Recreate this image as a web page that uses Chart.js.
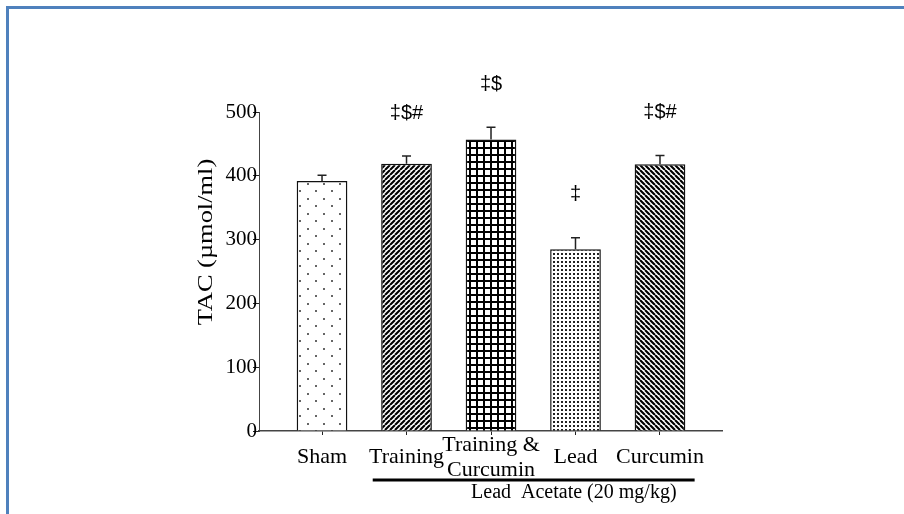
<!DOCTYPE html>
<html>
<head>
<meta charset="utf-8">
<script src="https://cdn.jsdelivr.net/npm/chart.js@4.4.0/dist/chart.umd.min.js"></script>
<style>
    html, body { margin: 0; padding: 0; background: #fff; }
    body { width: 904px; height: 514px; overflow: hidden; position: relative; }
    #frame { position: absolute; left: 6px; top: 6px; width: 1000px; height: 600px;
             border-left: 3px solid #4f81bd; border-top: 3px solid #4f81bd; }
    #wrap { position: absolute; left: 0; top: 0; width: 904px; height: 514px; }
</style>
</head>
<body>
<div id="frame"></div>
<div id="wrap"><canvas id="tacChart" width="904" height="514"></canvas></div>
<script>
// ADATOK
const groups = ['Sham', 'Training', ['Training &', 'Curcumin'], 'Lead', 'Curcumin'];
const tacMeans = [392, 419, 457, 285, 418];
const tacErrors = [9, 12, 19, 18, 14];
const significance = ['', '‡$#', '‡$', '‡', '‡$#'];
const yTicks = [0, 100, 200, 300, 400, 500];
const yTitle = 'TAC (µmol/ml)';
const leadGroupLabel = 'Lead  Acetate (20 mg/kg)';

const serif = "'Liberation Serif', 'Times New Roman', serif";
const sans = "'Liberation Sans', Arial, sans-serif";

const canvas = document.getElementById('tacChart');
const ctx = canvas.getContext('2d');

// MINTÁK (hatching)
function makePattern(w, h, draw) {
    const c = document.createElement('canvas');
    c.width = w; c.height = h;
    const p = c.getContext('2d');
    p.fillStyle = '#fff';
    p.fillRect(0, 0, w, h);
    draw(p, w, h);
    return ctx.createPattern(c, 'repeat');
}

function stripes(p, w, h, dir) {
    p.strokeStyle = '#000';
    p.lineWidth = 2.1;
    p.beginPath();
    for (let k = -1; k <= 1; k++) {
        if (dir > 0) {
            p.moveTo(k * w, h); p.lineTo(k * w + w, 0);
        } else {
            p.moveTo(k * w, 0); p.lineTo(k * w + w, h);
        }
    }
    p.stroke();
}

const patterns = [
    makePattern(16, 15, (p) => {
        p.fillStyle = '#666';
        p.fillRect(3, 3, 2, 2);
        p.fillRect(11, 10, 2, 2);
    }),
    makePattern(5, 5, (p, w, h) => stripes(p, w, h, 1)),
    makePattern(7, 7, (p) => {
        p.fillStyle = '#000';
        p.fillRect(0, 0, 7, 2);
        p.fillRect(0, 0, 2, 7);
    }),
    makePattern(4, 4, (p) => {
        p.fillStyle = '#222';
        p.fillRect(1, 1, 2, 2);
    }),
    makePattern(5, 5, (p, w, h) => stripes(p, w, h, -1))
];

// HIBASÁVOK + SZIGNIFIKANCIA JELEK
const errorBarsPlugin = {
    id: 'errorBars',
    afterDatasetsDraw(chart) {
        const c = chart.ctx;
        const yScale = chart.scales.y;
        const meta = chart.getDatasetMeta(0);
        c.save();
        c.strokeStyle = '#222';
        c.lineWidth = 1.5;
        c.fillStyle = '#000';
        c.font = `20px ${sans}`;
        c.textAlign = 'center';
        c.textBaseline = 'middle';
        meta.data.forEach((bar, i) => {
            const top = yScale.getPixelForValue(tacMeans[i] + tacErrors[i]);
            c.beginPath();
            c.moveTo(bar.x, bar.y);
            c.lineTo(bar.x, top);
            c.moveTo(bar.x - 4.5, top);
            c.lineTo(bar.x + 4.5, top);
            c.stroke();
            if (significance[i]) {
                c.fillText(significance[i], bar.x, top - 43);
            }
        });
        c.restore();
    }
};

// Y TENGELY CÍM + ÓLOM-ACETÁT CSOPORT
const extrasPlugin = {
    id: 'extras',
    afterDraw(chart) {
        const c = chart.ctx;
        const area = chart.chartArea;
        const xScale = chart.scales.x;
        c.save();
        c.fillStyle = '#000';
        c.textAlign = 'center';
        c.textBaseline = 'middle';

        c.save();
        c.translate(area.left - 53, area.top + 130);
        c.rotate(-Math.PI / 2);
        c.scale(1.2, 1);
        c.font = `22px ${serif}`;
        c.fillText(yTitle, 0, 0);
        c.restore();

        const x0 = xScale.getPixelForValue(0.6);
        const x1 = xScale.getPixelForValue(4.41);
        c.strokeStyle = '#000';
        c.lineWidth = 3;
        c.beginPath();
        c.moveTo(x0, area.bottom + 49);
        c.lineTo(x1, area.bottom + 49);
        c.stroke();

        c.font = `20px ${serif}`;
        c.fillText(leadGroupLabel, xScale.getPixelForValue(2.98), area.bottom + 62);
        c.restore();
    }
};

new Chart(ctx, {
    type: 'bar',
    data: {
        datasets: [{
            data: tacMeans.map((v, i) => ({ x: i, y: v })),
            backgroundColor: patterns,
            borderColor: '#111',
            borderWidth: 1.5,
            barPercentage: 0.6,
            categoryPercentage: 1
        }]
    },
    options: {
        responsive: false,
        animation: false,
        layout: { padding: { left: 199, right: 182, top: 112, bottom: 23 } },
        plugins: {
            legend: { display: false },
            tooltip: { enabled: false }
        },
        scales: {
            x: {
                type: 'linear',
                min: -0.746,
                max: 4.734,
                offset: false,
                afterBuildTicks: (s) => { s.ticks = groups.map((g, i) => ({ value: i })); },
                afterFit: (s) => { s.height = 60; },
                grid: { offset: false, drawOnChartArea: false, tickLength: 4, color: '#222' },
                border: { color: '#444', width: 1.5 },
                ticks: {
                    callback: (v) => groups[v],
                    font: { family: serif, size: 22, lineHeight: 1.15 },
                    color: '#000',
                    padding: 10,
                    crossAlign: 'center',
                    maxRotation: 0,
                    autoSkip: false
                }
            },
            y: {
                min: 0,
                max: 500,
                afterBuildTicks: (s) => { s.ticks = yTicks.map(v => ({ value: v })); },
                afterFit: (s) => { s.width = 60; },
                grid: { drawOnChartArea: false, tickLength: 6, color: '#222' },
                border: { color: '#444', width: 1 },
                ticks: {
                    font: { family: serif, size: 21 },
                    color: '#000',
                    padding: -4
                }
            }
        }
    },
    plugins: [errorBarsPlugin, extrasPlugin]
});
</script>
</body>
</html>
